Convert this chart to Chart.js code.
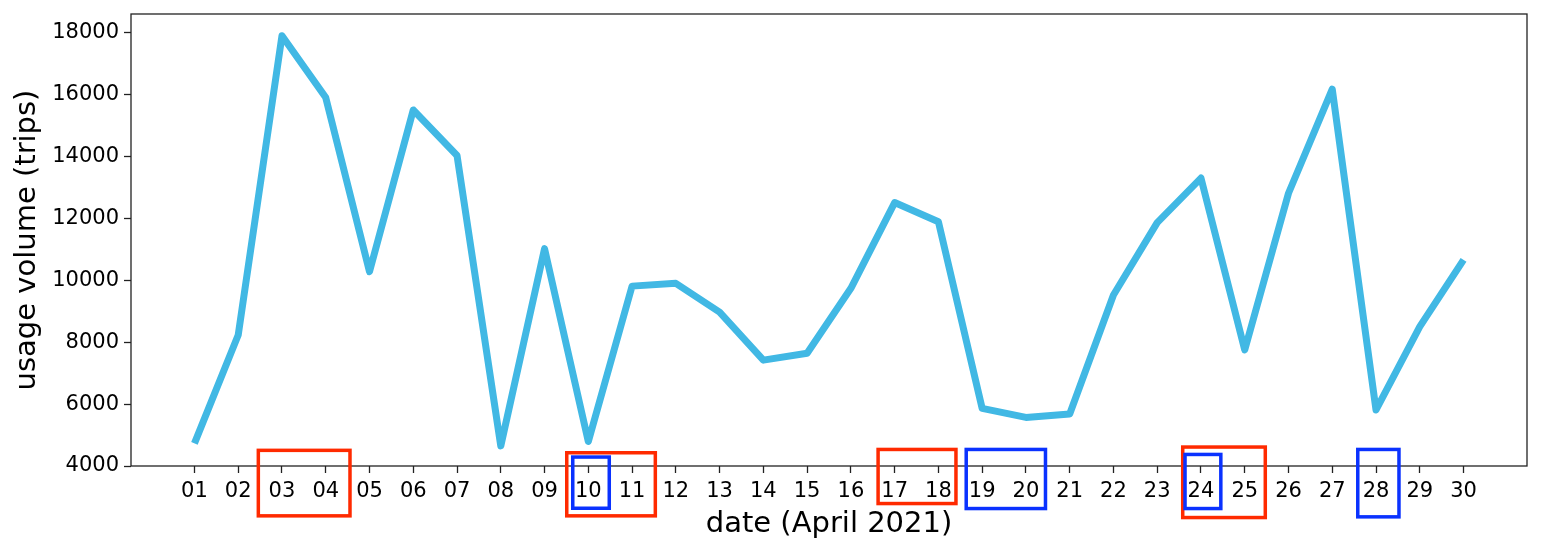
<!DOCTYPE html>
<html>
<head>
<meta charset="utf-8">
<script src="https://cdn.jsdelivr.net/npm/chart.js@4.4.1/dist/chart.umd.min.js"></script>
<style>
   body { margin: 0; background: #fff; }
   #wrap { position: relative; width: 1542px; height: 553px; }
</style>
</head>
<body>
<div id="wrap"><canvas id="lineChart"></canvas></div>
<script>
const days = [
   '01', '02', '03', '04', '05', '06', '07', '08', '09', '10',
   '11', '12', '13', '14', '15', '16', '17', '18', '19', '20',
   '21', '22', '23', '24', '25', '26', '27', '28', '29', '30'
];
const trips = [
   4730, 8230, 17900, 15900, 10280, 15500, 14030, 4650, 11020, 4790,
   9810, 9900, 8970, 7420, 7640, 9740, 12510, 11890, 5860, 5570,
   5680, 9525, 11860, 13300, 7750, 12810, 16170, 5810, 8500, 10660
];
const yTicks = [4000, 6000, 8000, 10000, 12000, 14000, 16000, 18000];

// day groups marked with boxes under the axis
const redGroups = [['03', '04'], ['10', '11'], ['17', '18'], ['24', '25']];
const blueGroups = [['10'], ['19', '20'], ['24'], ['28']];

// outer box edges: [left of first tick, right of last tick, top, bottom] relative to axis
const redBoxEdges = [[25.4, 26, -17.4, 51.6], [23.3, 25, -15, 51.6], [18.3, 19.3, -18.3, 39.3], [20, 22.3, -20.7, 53.3]];
const blueBoxEdges = [[17.3, 22.7, -10.7, 44], [17.7, 21.3, -18.3, 44.3], [17.7, 21.6, -13.3, 44.3], [20, 24.7, -18.3, 52.6]];

const font = 'DejaVu Sans';
const ink = '#222';

const framePlugin = {
   id: 'frame',
   afterDatasetsDraw(chart) {
      const { ctx, chartArea: a } = chart;
      ctx.save();
      ctx.strokeStyle = ink;
      ctx.lineWidth = 1.3;
      ctx.strokeRect(a.left, a.top, a.right - a.left, a.bottom - a.top);
      ctx.restore();
   }
};

function drawBoxes(chart, groups, edges, color) {
   const { ctx, chartArea: a } = chart;
   const xs = chart.scales.x;
   const lw = 3.5;
   ctx.save();
   ctx.strokeStyle = color;
   ctx.lineWidth = lw;
   groups.forEach((g, i) => {
      const e = edges[i];
      const x0 = xs.getPixelForValue(+g[0]) - e[0] + lw / 2;
      const x1 = xs.getPixelForValue(+g[g.length - 1]) + e[1] - lw / 2;
      const y0 = a.bottom + e[2] + lw / 2;
      const y1 = a.bottom + e[3] - lw / 2;
      ctx.strokeRect(x0, y0, x1 - x0, y1 - y0);
   });
   ctx.restore();
}

const boxPlugin = {
   id: 'boxes',
   afterDraw(chart) {
      drawBoxes(chart, redGroups, redBoxEdges, '#ff2a00');
      drawBoxes(chart, blueGroups, blueBoxEdges, '#0a32ff');
   }
};

const ctx = document.getElementById('lineChart').getContext('2d');

new Chart(ctx, {
   type: 'line',
   data: {
      datasets: [
         {
            label: 'trips',
            data: days.map((d, i) => ({ x: +d, y: trips[i] })),
            borderColor: '#41b8e4',
            backgroundColor: '#41b8e4',
            borderWidth: 7,
            borderJoinStyle: 'round',
            borderCapStyle: 'butt',
            pointRadius: 0,
            tension: 0,
         },
      ],
   },
   options: {
      responsive: true,
      maintainAspectRatio: false,
      animation: false,
      devicePixelRatio: 1,
      layout: { padding: { top: 14, right: 15, left: 0, bottom: 0 } },
      plugins: {
         legend: { display: false },
         tooltip: { enabled: false },
      },
      scales: {
         x: {
            type: 'linear',
            min: -0.45,
            max: 31.45,
            afterBuildTicks: s => { s.ticks = days.map(d => ({ value: +d })); },
            afterFit: s => { s.height = 87; s.paddingLeft = 0; s.paddingRight = 0; },
            ticks: {
               callback: (v, i) => days[i],
               color: '#000',
               font: { family: font, size: 21 },
               padding: 6,
               maxRotation: 0,
               autoSkip: false,
            },
            grid: { drawOnChartArea: false, drawTicks: true, tickLength: 7, color: ink, tickWidth: 1.3 },
            border: { display: false },
            title: {
               display: true,
               text: 'date (April 2021)',
               color: '#000',
               font: { family: font, size: 29 },
               padding: { top: 0, bottom: 11 },
            },
         },
         y: {
            min: 4000,
            max: 18600,
            afterBuildTicks: s => { s.ticks = yTicks.map(v => ({ value: v })); },
            afterFit: s => { s.width = 131; s.paddingTop = 0; s.paddingBottom = 0; },
            ticks: {
               callback: v => String(v),
               color: '#000',
               font: { family: font, size: 21 },
               padding: 5,
            },
            grid: { drawOnChartArea: false, drawTicks: true, tickLength: 7, color: ink, tickWidth: 1.3 },
            border: { display: false },
            title: {
               display: true,
               text: 'usage volume (trips)',
               color: '#000',
               font: { family: font, size: 29 },
               padding: { top: 10.5, bottom: 0 },
            },
         },
      },
   },
   plugins: [framePlugin, boxPlugin],
});
</script>
</body>
</html>
